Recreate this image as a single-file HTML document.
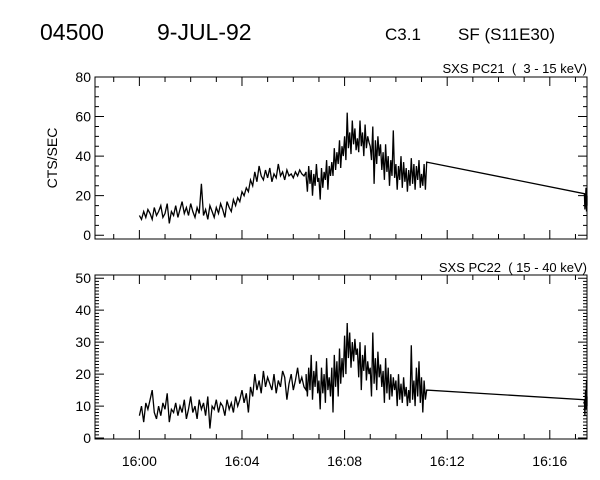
<!DOCTYPE html>
<html><head><meta charset="utf-8"><style>
body{margin:0;background:#fff}
svg{display:block}
text{font-family:"Liberation Sans",sans-serif;fill:#000}
</style></head><body>
<svg id="c" width="600" height="480">
<text x="40" y="40" font-size="23">04500</text>
<text x="157" y="40" font-size="23">9-JUL-92</text>
<text x="385" y="40" font-size="17">C3.1</text>
<text x="458" y="40" font-size="17">SF (S11E30)</text>
<text x="587" y="73" font-size="13" text-anchor="end" xml:space="preserve">SXS PC21  (  3 - 15 keV)</text>
<text x="587" y="272" font-size="13" text-anchor="end" xml:space="preserve">SXS PC22  ( 15 - 40 keV)</text>
<text transform="translate(57,158) rotate(-90)" font-size="14" text-anchor="middle">CTS/SEC</text>
</svg>
<script>
const xTickLabels=["16:00","16:04","16:08","16:12","16:16"];
const xTickMinutes=[0,4,8,12,16];
const segStep=[5,3]; // seconds per sample in segment A, B
const topA=[10,8,12,9,13,11,8,14,10,12,15,9,11,16,6,12,10,15,9,13,17,11,14,10,16,12,9,14,11,26,10,13,8,15,12,9,14,11,16,13,9,17,14,12,18,15,19,17,22,20,24,22,28,25,32,27,35,30,28,33,29,34,27,31,29,36,30,32,28,33,30,31,29,32,30,33,31,30,32];
const topB=[30,22,35,26,33,20,31,25,36,27,29,18,34,24,32,28,38,23,35,30,37,30,44,33,42,36,48,34,45,40,50,38,62,44,52,41,58,46,54,43,49,42,58,45,52,40,56,44,50,47,45,38,55,26,48,36,50,40,46,33,42,28,46,32,40,25,38,30,53,29,36,23,35,28,40,24,37,27,34,22,33,25,39,26,36,23,35,28,38,24,31,25,36,23,37];
const topC=[21,13,18,24,12,20,15];
const botA=[7,10,5,11,9,12,15,8,6,10,7,11,9,14,5,9,8,11,7,10,8,12,6,9,13,8,10,6,12,9,11,7,13,3,10,9,12,8,11,10,7,12,9,11,8,13,10,12,15,11,14,8,16,13,20,15,18,14,21,16,19,17,15,20,14,18,16,21,19,12,17,20,15,18,22,17,19,16,15];
const botB=[20,13,22,15,26,12,21,16,24,14,18,9,22,14,20,11,25,15,19,13,22,8,26,16,24,13,28,17,25,19,32,20,36,25,33,22,30,24,31,26,28,19,30,15,26,21,29,18,24,20,22,13,33,17,25,15,27,19,23,16,21,11,25,14,22,12,20,13,19,15,18,10,20,12,17,11,19,13,16,10,15,11,29,12,18,10,22,13,24,11,19,8,18,12,15];
const botC=[12,7,15,9,18,10,13];
const segStart=[0,6.5,17.35]; // minutes after 16:00

const NS="http://www.w3.org/2000/svg",svg=document.getElementById('c');
const L=95,R=587,xMin=-1.73,xMax=17.45;
const X=m=>L+(m-xMin)/(xMax-xMin)*(R-L);
function mk(t,a,p){const e=document.createElementNS(NS,t);for(const k in a)e.setAttribute(k,a[k]);(p||svg).appendChild(e);return e;}
function panel(top,bot,yMin,yMax,major,minor,A,B,C,name,showX){
  const Y=v=>bot-(v-yMin)/(yMax-yMin)*(bot-top);
  const g=mk('g',{});
  
  
  const box=mk('rect',{x:L,y:top,width:R-L,height:bot-top,fill:'none',stroke:'#000','stroke-width':1},g);
  
  
  let d='';
  for(let v=Math.ceil(yMin/minor)*minor;v<=yMax+1e-9;v+=minor){
    const y=Y(v),isM=Math.abs(v/major-Math.round(v/major))<1e-6,len=isM?9:4;
    d+=`M${L},${y}h${len}M${R},${y}h${-len}`;
    if(isM){const t=mk('text',{x:L-4,y:y+5,'font-size':14,'text-anchor':'end'},g);t.textContent=Math.round(v);
      
      }
  }
  for(let m=-1;m<=17;m++){
    const x=X(m),isM=m%4===0,len=isM?9:5;
    d+=`M${x},${bot}v${-len}M${x},${top}v${len}`;
  }
  const ticks=mk('path',{d:d,stroke:'#000','stroke-width':1,fill:'none'},g);
  
  
  if(showX){xTickLabels.forEach((s,i)=>{const t=mk('text',{x:X(xTickMinutes[i]),y:bot+27,'font-size':14,'text-anchor':'middle'},g);t.textContent=s;
    
    });}
  let pts=[];
  A.forEach((v,i)=>pts.push([X(segStart[0]+i*segStep[0]/60),Y(v)]));
  B.forEach((v,i)=>pts.push([X(segStart[1]+i*segStep[1]/60),Y(v)]));
  C.forEach((v,i)=>pts.push([Math.min(R,X(segStart[2]+i*0.02)),Y(v)]));
  const line=mk('polyline',{points:pts.map(p=>p[0].toFixed(1)+','+p[1].toFixed(1)).join(' '),fill:'none',stroke:'#000','stroke-width':1.3},g);
  
  
}
panel(77,239,-1.9,80,20,5,topA,topB,topC,'top-panel',false);
panel(275,439,-0.3,51,10,1,botA,botB,botC,'bottom-panel',true);
</script>
</body></html>
